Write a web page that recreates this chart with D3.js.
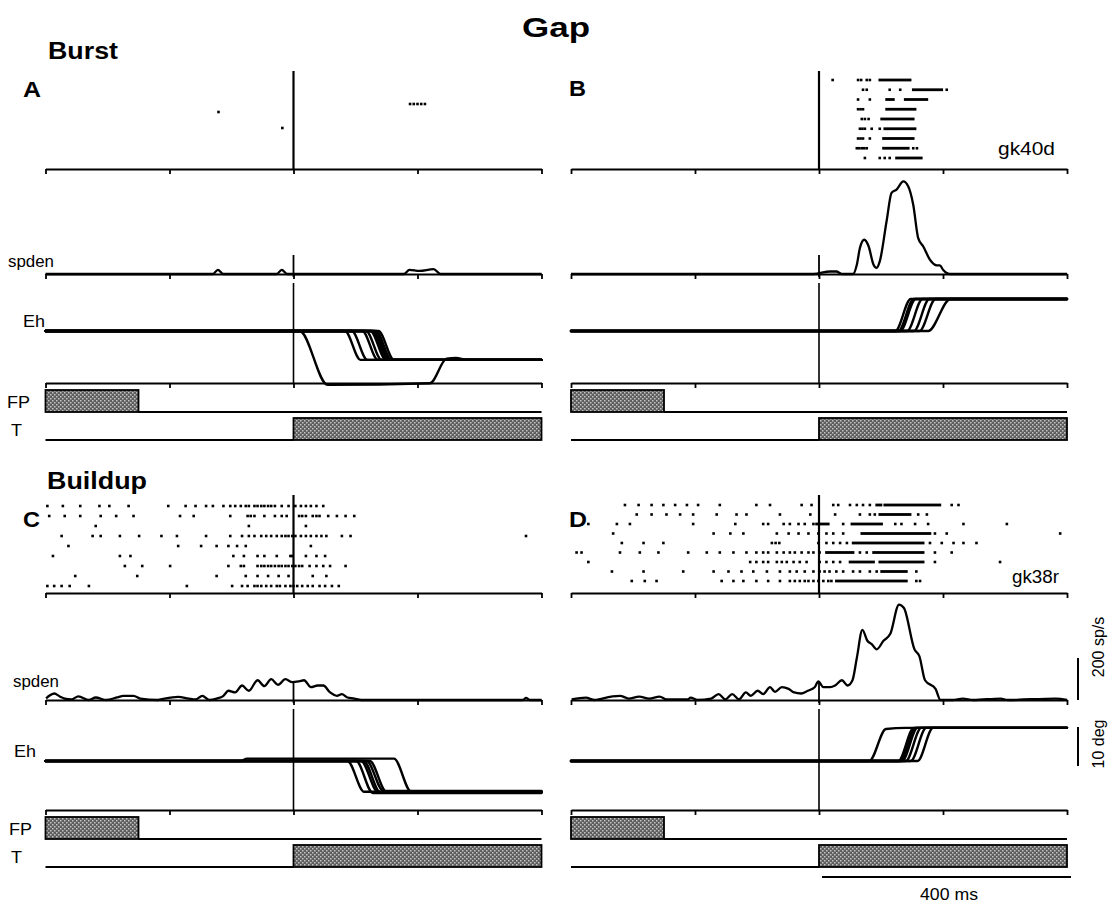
<!DOCTYPE html>
<html>
<head>
<meta charset="utf-8">
<script src="https://cdn.jsdelivr.net/npm/d3@7"></script>
<style>
body { margin: 0; background: #fff; }
text { font-family: "Liberation Sans", Arial, sans-serif; fill: #000; }
</style>
</head>
<body>
<script>
// time axis (ms re target onset) and task events
var tickTimes = [-400, -200, 0, 200, 400];
var fpTimes = [-400, -250];
var targetTimes = [0, 400];

// rasters: spike times (ms) per trial, plus dense runs drawn as solid dashes
var spikesA = [[], [], [], [188, 194, 200, 206, 212], [-121], [], [-18], [], [], [], []];
var runsA = [[], [], [], [], [], [], [], [], [], [], []];

var spikesB = [
  [22, 63, 68, 77, 82],
  [71, 77, 114, 131, 206],
  [63, 82],
  [63, 67, 71],
  [69, 74, 80],
  [66, 70, 74, 85, 98],
  [63, 67, 71, 82],
  [61, 65, 69, 73, 77, 152, 158],
  [74, 98, 106, 114]
];
var runsB = [
  [[98, 147]],
  [[152, 198]],
  [[109, 120], [139, 174]],
  [[109, 155]],
  [[101, 152]],
  [[106, 155]],
  [[104, 152]],
  [[104, 144]],
  [[125, 165]]
];

var spikesC = [
  [-397, -372, -344, -313, -297, -266, -202, -174, -158, -141, -130, -113, -102, -94, -85, -77, -72, -63, -58, -52, -47, -41, -36, -30, -19, -8, 3, 12, 20, 28, 37, 48],
  [-394, -369, -344, -311, -286, -258, -183, -161, -102, -74, -69, -63, -47, -30, -19, -11, 9, 14, 20, 31, 37, 42, 56, 70, 84, 98],
  [-319, -72, 20],
  [-374, -324, -311, -280, -249, -213, -188, -141, -102, -83, -72, -63, -52, -44, -36, -27, -19, -13, -8, -2, 3, 12, 20, 28, 37, 45, 53, 78, 92, 375],
  [-363, -186, -149, -124, -105, -91, -77, 28],
  [-388, -280, -263, -97, -80, -58, -47, -27, -5, -2, 20, 37, 51],
  [-272, -244, -199, -105, -85, -80, -58, -52, -47, -41, -36, -30, -24, -19, -13, -8, -2, 3, 9, 14, 26, 37, 48, 59, 84],
  [-352, -252, -124, -77, -58, -41, -24, -8, 31, 53],
  [-397, -386, -374, -361, -330, -172, -99, -83, -74, -63, -58, -52, -44, -36, -27, -22, -13, -5, 0, 6, 14, 23, 31, 42, 51, 62, 73]
];
var runsC = [[], [], [], [], [], [], [], [], []];

var spikesD = [
  [-313, -291, -270, -251, -232, -213, -195, -160, -101, -79, -28, -12, 23, 31, 50, 61, 71, 82, 214, 225],
  [-294, -270, -246, -224, -203, -165, -133, -117, -63, -14, 26, 66, 82, 90, 160, 174],
  [-372, -326, -305, -203, -135, -90, -82, -57, -47, -33, -23, -9, 39, 123, 133, 155, 176, 233, 303],
  [-332, -170, -143, -122, -68, -49, -33, -17, -1, 12, 23, 39, 187, 206, 389],
  [-318, -283, -251, -76, -70, -64, -1, 12, 23, 34, 45, 179, 198, 217, 233, 254],
  [-391, -383, -321, -289, -259, -211, -181, -160, -138, -117, -101, -90, -82, -68, -57, -47, -39, -28, -17, -9, 1, 66, 77, 187, 214],
  [-372, -111, -101, -90, -82, -68, -60, -52, -41, -31, -20, 1, 12, 23, 34, 187, 292],
  [-334, -283, -219, -170, -146, -125, -106, -84, -63, -47, -36, -23, -9, 1, 9, 17, 28, 39, 55, 66, 82, 93, 157],
  [-302, -281, -262, -157, -138, -122, -101, -82, -63, -47, -39, -31, -23, -17, -9, -1, 7, 15, 20, 157, 163]
];
var runsD = [
  [[93, 100], [106, 195]],
  [[98, 147]],
  [[-4, 15], [53, 101]],
  [[69, 179]],
  [[55, 168]],
  [[12, 55], [88, 168]],
  [[50, 88], [98, 168]],
  [[101, 141]],
  [[28, 141]]
];

// spike density [ms, sp/s]
var spdenA = [[-400, 0], [-130, 0], [-122, 20], [-113, 0], [-27, 0], [-19, 20], [-10, 0], [178, 0], [187, 20], [203, 15], [226, 23], [237, 0], [400, 0]];
var spdenB = [[-400, 0], [-9, 0], [18, 12], [28, 12], [37, 0], [55, 0], [61, 44], [66, 124], [73, 163], [80, 132], [88, 44], [93, 29], [98, 60],
  [109, 251], [117, 386], [125, 402], [136, 441], [144, 417], [152, 330], [160, 171], [168, 132], [179, 68], [190, 41], [195, 41], [200, 20], [211, 0], [400, 0]];
var spdenC = [[-399, 7], [-394, 20], [-386, 31], [-377, 17], [-369, 7], [-358, 3], [-347, 17], [-330, 0], [-319, 12], [-302, 0], [-285, 12], [-274, 20],
  [-258, 20], [-247, 7], [-219, 0], [-208, 7], [-186, 15], [-169, 7], [-158, 3], [-147, 20], [-136, 0], [-124, 7], [-113, 20], [-105, 44],
  [-94, 36], [-83, 69], [-72, 44], [-58, 94], [-47, 66], [-36, 99], [-25, 72], [-13, 99], [-2, 85], [9, 89], [17, 94], [28, 61], [39, 69],
  [48, 69], [59, 36], [70, 20], [78, 28], [87, 12], [98, 7], [109, 0], [370, 0], [375, 10], [381, 0], [400, 0]];
var spdenD = [[-399, 3], [-376, 11], [-362, 0], [-335, 16], [-321, 20], [-307, 7], [-290, 16], [-274, 7], [-257, 16], [-246, 3], [-212, 3], [-207, 11],
  [-196, 0], [-174, 7], [-162, 28], [-151, 3], [-140, 28], [-129, 3], [-118, 36], [-110, 20], [-99, 44], [-90, 28], [-79, 61], [-71, 39],
  [-60, 61], [-49, 53], [-40, 36], [-29, 31], [-18, 44], [-7, 61], [-1, 89], [7, 61], [18, 61], [26, 69], [37, 94], [46, 69], [54, 94],
  [61, 200], [70, 334], [78, 282], [85, 266], [93, 241], [104, 282], [115, 315], [129, 454], [137, 438], [154, 241], [162, 208], [171, 94],
  [188, 53], [196, 0], [215, 0], [232, 7], [249, 0], [293, 7], [304, 0], [382, 7], [400, 0]];

// horizontal eye position traces [ms, deg]
var ehA = [
  [[-400, 0], [83, 0], [108, -7.4], [400, -7.4]],
  [[-400, 0], [94, 0], [119, -7.4], [400, -7.4]],
  [[-400, 0], [111, 0], [136, -7.4], [400, -7.4]],
  [[-400, 0], [117, 0], [142, -7.4], [400, -7.4]],
  [[-400, 0], [124, 0], [149, -7.4], [400, -7.4]],
  [[-400, 0], [127, 0], [152, -7.4], [400, -7.4]],
  [[-400, 0], [130, 0], [155, -7.4], [400, -7.4]],
  [[-400, 0], [133, 0], [158, -7.4], [400, -7.4]],
  [[-400, 0], [137, 0], [162, -7.4], [400, -7.4]],
  [[-400, 0], [10, 0], [55, -13.8], [220, -13.4], [247, -7.1], [262, -6.9], [280, -7.4], [400, -7.4]]
];
var ehB = [
  [[-400, 0], [123, 0], [148, 8.2], [400, 8.2]],
  [[-400, 0], [128, 0], [153, 8.2], [400, 8.2]],
  [[-400, 0], [131, 0], [156, 8.2], [400, 8.2]],
  [[-400, 0], [142, 0], [167, 8.2], [400, 8.2]],
  [[-400, 0], [153, 0], [178, 8.2], [400, 8.2]],
  [[-400, 0], [162, 0], [188, 8.2], [400, 8.2]],
  [[-400, 0], [176, 0], [212, 8.2], [400, 8.2]]
];
var ehC = [
  [[-400, 0], [87, 0], [114, -7.9], [400, -7.9]],
  [[-400, 0], [101, 0], [128, -8.2], [400, -8.2]],
  [[-400, 0], [109, 0], [136, -7.9], [400, -7.9]],
  [[-400, 0], [113, 0], [140, -8.0], [400, -8.0]],
  [[-400, 0], [118, 0], [145, -7.7], [400, -7.7]],
  [[-400, 0], [123, 0], [150, -7.9], [400, -7.9]],
  [[-400, 0], [-85, 0], [-75, 0.6], [162, 0.6], [190, -7.9], [400, -7.9]]
];
var ehD = [
  [[-400, 0], [81, 0], [108, 8.2], [140, 8.5], [400, 8.5]],
  [[-400, 0], [128, 0], [153, 8.5], [400, 8.5]],
  [[-400, 0], [131, 0], [156, 8.5], [400, 8.5]],
  [[-400, 0], [134, 0], [159, 8.5], [400, 8.5]],
  [[-400, 0], [140, 0], [165, 8.5], [400, 8.5]],
  [[-400, 0], [148, 0], [173, 8.5], [400, 8.5]],
  [[-400, 0], [159, 0], [184, 8.5], [400, 8.5]]
];

var svg = d3.select('body')
            .append('svg')
            .attr('width', 1112)
            .attr('height', 903);

// gray halftone fill of the FP / T bars
var pat = svg.append('defs').append('pattern')
    .attr('id', 'halftone')
    .attr('patternUnits', 'userSpaceOnUse')
    .attr('width', 4).attr('height', 4);
pat.append('rect').attr('width', 4).attr('height', 4).attr('fill', '#5e5e5e');
pat.append('rect').attr('x', 0).attr('y', 0).attr('width', 1.5).attr('height', 1.5).attr('fill', '#c4c4c4');
pat.append('rect').attr('x', 2).attr('y', 2).attr('width', 1.5).attr('height', 1.5).attr('fill', '#c4c4c4');

var xLeft = d3.scaleLinear().domain([-400, 400]).range([45.5, 541.5]);
var xRight = d3.scaleLinear().domain([-400, 400]).range([571, 1067]);

var layoutTop = {vTop: 71, axis: 169, spBase: 274, ehVTop: 283, ehZero: 331, ehAxis: 383, fpTop: 390, fpBot: 412, tTop: 418, tBot: 440};
var layoutBot = {vTop: 495, axis: 593, spBase: 700, ehVTop: 709, ehZero: 761, ehAxis: 810, fpTop: 817, fpBot: 839, tTop: 845, tBot: 867};

function drawPanel(x, L, spikes, runs, rowRange, spden, eh) {
  var g = svg.append('g');
  var rowY = d3.scalePoint().domain(d3.range(spikes.length)).range(rowRange);
  var yS = d3.scaleLinear().domain([0, 200]).range([L.spBase, L.spBase - 42]);
  var yE = d3.scaleLinear().domain([0, 10]).range([L.ehZero, L.ehZero - 39]);

  var axis = d3.axisBottom(x).tickValues(tickTimes).tickSize(5).tickSizeOuter(0).tickFormat('');
  [L.axis, L.spBase, L.ehAxis].forEach(function(y) {
    var a = g.append('g').attr('transform', 'translate(0,' + y + ')').call(axis);
    a.select('.domain').attr('stroke', '#000').attr('stroke-width', 2.2);
    a.selectAll('.tick line').attr('stroke', '#000').attr('stroke-width', 1.8);
  });

  // target onset markers
  g.append('line').attr('x1', x(0)).attr('x2', x(0)).attr('y1', L.vTop).attr('y2', L.axis)
      .attr('stroke', '#000').attr('stroke-width', 2.2);
  g.append('line').attr('x1', x(0)).attr('x2', x(0)).attr('y1', L.spBase - 19).attr('y2', L.spBase + 3)
      .attr('stroke', '#000').attr('stroke-width', 1.8);
  g.append('line').attr('x1', x(0)).attr('x2', x(0)).attr('y1', L.ehVTop).attr('y2', L.ehAxis)
      .attr('stroke', '#000').attr('stroke-width', 1.6);

  // raster
  spikes.forEach(function(row, i) {
    g.selectAll(null).data(row).enter().append('rect')
        .attr('x', function(d) { return x(d) - 1.3; })
        .attr('y', rowY(i) - 1.3)
        .attr('width', 2.6).attr('height', 2.6)
        .attr('fill', '#000');
    g.selectAll(null).data(runs[i]).enter().append('rect')
        .attr('x', function(d) { return x(d[0]) - 1.3; })
        .attr('y', rowY(i) - 1.4)
        .attr('width', function(d) { return x(d[1]) - x(d[0]) + 2.6; })
        .attr('height', 2.8)
        .attr('fill', '#000');
  });

  // spike density
  var spLine = d3.line()
      .x(function(d) { return x(d[0]); })
      .y(function(d) { return yS(d[1]); })
      .curve(d3.curveMonotoneX);
  g.append('path').attr('d', spLine(spden))
      .attr('fill', 'none').attr('stroke', '#000').attr('stroke-width', 2.3).attr('stroke-linejoin', 'round');

  // eye traces
  var ehLine = d3.line()
      .x(function(d) { return x(d[0]); })
      .y(function(d) { return yE(d[1]); })
      .curve(d3.curveMonotoneX);
  g.selectAll(null).data(eh).enter().append('path')
      .attr('d', ehLine)
      .attr('fill', 'none').attr('stroke', '#000').attr('stroke-width', 2.4).attr('stroke-linecap', 'round');

  // fixation point and target bars
  g.append('rect')
      .attr('x', x(fpTimes[0])).attr('y', L.fpTop)
      .attr('width', x(fpTimes[1]) - x(fpTimes[0])).attr('height', L.fpBot - L.fpTop)
      .attr('fill', 'url(#halftone)').attr('stroke', '#000').attr('stroke-width', 1.8);
  g.append('line').attr('x1', x(fpTimes[1])).attr('x2', x(400)).attr('y1', L.fpBot).attr('y2', L.fpBot)
      .attr('stroke', '#000').attr('stroke-width', 2.2);
  g.append('line').attr('x1', x(-400)).attr('x2', x(targetTimes[0])).attr('y1', L.tBot).attr('y2', L.tBot)
      .attr('stroke', '#000').attr('stroke-width', 2.2);
  g.append('rect')
      .attr('x', x(targetTimes[0])).attr('y', L.tTop)
      .attr('width', x(targetTimes[1]) - x(targetTimes[0])).attr('height', L.tBot - L.tTop)
      .attr('fill', 'url(#halftone)').attr('stroke', '#000').attr('stroke-width', 1.8);

  return {yS: yS, yE: yE};
}

drawPanel(xLeft, layoutTop, spikesA, runsA, [80, 160], spdenA, ehA);
drawPanel(xRight, layoutTop, spikesB, runsB, [80, 158], spdenB, ehB);
drawPanel(xLeft, layoutBot, spikesC, runsC, [506, 586], spdenC, ehC);
var sD = drawPanel(xRight, layoutBot, spikesD, runsD, [505, 581], spdenD, ehD);

// scale bars
svg.append('line').attr('x1', 1078).attr('x2', 1078).attr('y1', sD.yS(0)).attr('y2', sD.yS(200))
    .attr('stroke', '#000').attr('stroke-width', 2);
var degTop = 727;
svg.append('line').attr('x1', 1078).attr('x2', 1078)
    .attr('y1', degTop).attr('y2', degTop + sD.yE(0) - sD.yE(10))
    .attr('stroke', '#000').attr('stroke-width', 2);
svg.append('line').attr('x1', xRight(0) + 3).attr('x2', xRight(400) + 4).attr('y1', 877).attr('y2', 877)
    .attr('stroke', '#000').attr('stroke-width', 2);

// texts
function label(str, x, y, size, bold, len) {
  var t = svg.append('text').attr('x', x).attr('y', y)
      .attr('font-size', size)
      .attr('font-weight', bold ? 'bold' : 'normal')
      .text(str);
  if (len) t.attr('textLength', len).attr('lengthAdjust', 'spacingAndGlyphs');
  return t;
}
label('Gap', 522, 37, 28, true, 68);
label('Burst', 48, 59, 23, true, 70);
label('Buildup', 47, 489, 23, true, 100);
label('A', 23, 97, 22, true, 18);
label('B', 569, 96, 22, true, 17);
label('C', 23, 527, 22, true, 17);
label('D', 569, 527, 22, true, 18);

label('spden', 8, 267, 17, false, 46);
label('Eh', 23, 327, 17, false, 22);
label('FP', 7, 408, 17, false, 23);
label('T', 11, 436, 17, false, 11);
label('spden', 13, 687, 17, false, 46);
label('Eh', 14, 757, 17, false, 22);
label('FP', 9, 835, 17, false, 23);
label('T', 11, 863, 17, false, 11);

label('gk40d', 998, 155, 18, false, 57);
label('gk38r', 1012, 583, 18, false, 47);
label('400 ms', 920, 900, 16, false, 58);

svg.append('text').attr('transform', 'translate(1104,647) rotate(-90)')
    .attr('text-anchor', 'middle').attr('font-size', 16).text('200 sp/s');
svg.append('text').attr('transform', 'translate(1104,744) rotate(-90)')
    .attr('text-anchor', 'middle').attr('font-size', 16).text('10 deg');
</script>
</body>
</html>
